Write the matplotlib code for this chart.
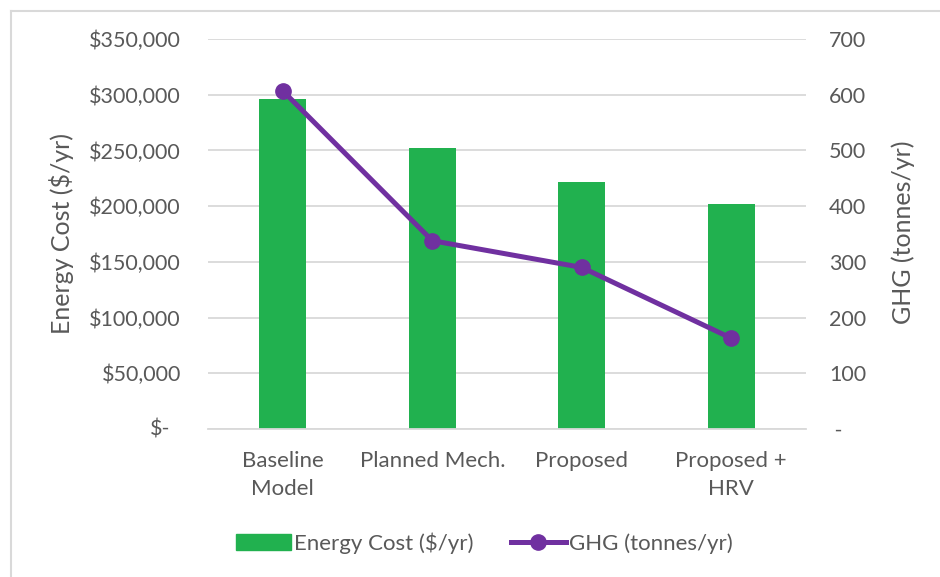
import matplotlib.pyplot as plt
from matplotlib.ticker import FuncFormatter
from matplotlib.lines import Line2D
import numpy as np

plt.rcParams['font.family'] = ['Lato', 'DejaVu Sans']

categorias = ['Baseline\nModel', 'Planned Mech.', 'Proposed', 'Proposed +\nHRV']
costo = [296000, 252000, 221500, 202000]      # Energy Cost ($/yr)
ghg = [607, 338, 290, 163]                    # GHG (tonnes/yr)

verde = '#21B14F'
morado = '#7030A0'
gris = '#595959'

W, H = 940, 577
fig = plt.figure(figsize=(9.4, 5.77), dpi=100)
ax = fig.add_axes([208 / W, 1 - 429 / H, 598 / W, 390 / H])

# borde del grafico
fig.add_artist(Line2D([11 / W, 11 / W], [0, 1 - 11 / H], color='#d9d9d9', lw=1.5))
fig.add_artist(Line2D([11 / W, 1], [1 - 11 / H, 1 - 11 / H], color='#d9d9d9', lw=1.5))

x = np.arange(len(categorias))
ax.bar(x, costo, width=0.315, color=verde, zorder=2)
ax.set_xlim(-0.5, 3.5)
ax.set_ylim(0, 350000)
ax.set_yticks(np.arange(0, 350001, 50000))
ax.yaxis.set_major_formatter(FuncFormatter(lambda v, p: '' if v == 0 else '${:,.0f}'.format(v)))
ax.grid(axis='y', color='#d9d9d9', lw=1.3, zorder=0)
ax.set_axisbelow(True)
for s in ['top', 'right', 'left']:
    ax.spines[s].set_visible(False)
ax.spines['bottom'].set_color('#d9d9d9')
ax.spines['bottom'].set_linewidth(1.3)
ax.set_xticks(x)
ax.set_xticklabels(categorias, linespacing=1.5)
ax.tick_params(axis='y', length=0, labelsize=15.5, colors=gris, pad=19.5)
ax.tick_params(axis='x', length=0, labelsize=16, colors=gris, pad=15.5)
# etiqueta del cero (formato contable)
ax.text((170 - 208) / 598, 0, '$-', transform=ax.get_yaxis_transform(),
        ha='right', va='center', fontsize=15.5, color=gris)

ax2 = ax.twinx()
ax2.plot(x, ghg, color=morado, lw=3.6, marker='o', markersize=11, zorder=3)
ax2.set_ylim(0, 700)
ax2.set_yticks(np.arange(0, 701, 100))
ax2.yaxis.set_major_formatter(FuncFormatter(lambda v, p: ' -' if v == 0 else '{:.0f}'.format(v)))
for s in ax2.spines.values():
    s.set_visible(False)
ax2.tick_params(axis='y', length=0, labelsize=15.5, colors=gris, pad=16.5)

# titulos de ejes
fig.text(62 / W, 1 - 234 / H, 'Energy Cost ($/yr)', rotation=90, ha='center', va='center',
         fontsize=18, color=gris)
fig.text(903 / W, 1 - 232 / H, 'GHG (tonnes/yr)', rotation=90, ha='center', va='center',
         fontsize=18, color=gris)

h1 = plt.Rectangle((0, 0), 1, 1, color=verde)
h2 = Line2D([], [], color=morado, lw=3.6, marker='o', markersize=11)
leg = fig.legend([h1, h2], ['Energy Cost ($/yr)', 'GHG (tonnes/yr)'], loc='center',
                 bbox_to_anchor=(484.5 / W, 1 - 543 / H), ncol=2, frameon=False, fontsize=16,
                 handlelength=2.45, handletextpad=0.15, columnspacing=1.7,
                 borderpad=0, borderaxespad=0)
for t in leg.get_texts():
    t.set_color(gris)

fig.savefig('out.png', dpi=100)
